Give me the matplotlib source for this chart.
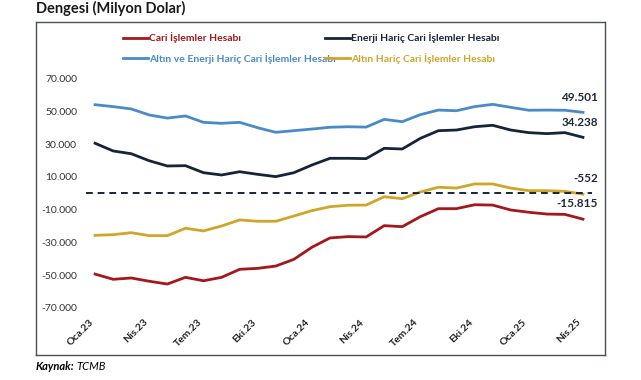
import numpy as np
import matplotlib
matplotlib.use('Agg')
import matplotlib.pyplot as plt

plt.rcParams['font.family'] = ['Lato', 'DejaVu Sans']

# ---------------------------
# data (milyon dolar, yillik)
# ---------------------------
months = ['Oca.23', 'Şub.23', 'Mar.23', 'Nis.23', 'May.23', 'Haz.23', 'Tem.23', 'Ağu.23', 'Eyl.23',
          'Eki.23', 'Kas.23', 'Ara.23', 'Oca.24', 'Şub.24', 'Mar.24', 'Nis.24', 'May.24', 'Haz.24',
          'Tem.24', 'Ağu.24', 'Eyl.24', 'Eki.24', 'Kas.24', 'Ara.24', 'Oca.25', 'Şub.25', 'Mar.25',
          'Nis.25']

cari = [-49400, -52600, -51800, -53800, -55500, -51400, -53500, -51400, -46500, -45900,
        -44500, -40400, -33000, -27300, -26500, -26700, -19800, -20400, -14300, -9400,
        -9400, -7000, -7200, -10200, -11600, -12700, -12900, -15815]
enerji_haric = [30600, 25900, 24200, 19900, 16700, 16900, 12600, 11200, 13200, 11600,
                10200, 12600, 17300, 21400, 21400, 21200, 27500, 27100, 33600, 38300,
                38700, 40700, 41600, 38700, 37100, 36500, 37100, 34238]
altin_enerji_haric = [54200, 53000, 51600, 47900, 46000, 47300, 43400, 42800, 43400, 40100,
                      37300, 38300, 39300, 40400, 40700, 40500, 45200, 43800, 48100, 50900,
                      50500, 53000, 54400, 52600, 50800, 50900, 50800, 49501]
altin_haric = [-25700, -25300, -24100, -25900, -25900, -21400, -23000, -20000, -16300, -17100,
               -17100, -13900, -10600, -8200, -7300, -7200, -2100, -3300, 800, 3700,
               3200, 5700, 5700, 3200, 1600, 1600, 1200, -552]

yticks = [70000, 50000, 30000, 10000, -10000, -30000, -50000, -70000]

c_red = '#A3171D'
c_navy = '#16243A'
c_blue = '#4A8AC6'
c_gold = '#CFA62A'

x = np.arange(len(months))

fig = plt.figure(figsize=(6.41, 3.80), dpi=100)
ax = fig.add_axes([36/641, 25/380, 569/641, 333/380])

l1, = ax.plot(x, cari, color=c_red, lw=2.0, label='Cari İşlemler Hesabı')
l2, = ax.plot(x, enerji_haric, color=c_navy, lw=2.0, label='Enerji Hariç Cari İşlemler Hesabı')
l3, = ax.plot(x, altin_enerji_haric, color=c_blue, lw=2.0,
              label='Altın ve Enerji Hariç Cari İşlemler Hesabı')
l4, = ax.plot(x, altin_haric, color=c_gold, lw=2.0, label='Altın Hariç Cari İşlemler Hesabı')
ax.hlines(0, -0.5, len(months) - 0.5, colors=c_navy, linestyles=(0, (3.5, 2.5)), lw=1.4)

# last values
for s in [altin_enerji_haric, enerji_haric, altin_haric, cari]:
    ax.annotate(f'{s[-1]:,}'.replace(',', '.'), (x[-1], s[-1]), xytext=(11, 11),
                textcoords='offset points', ha='right', va='center',
                fontsize=8.5, fontweight='bold', color='#1F2A3A')

ax.set_xlim(-3.27, 28.22)
ax.set_ylim(-98900, 104770)

ax.set_yticks(yticks)
ax.set_yticklabels([f'{v:,}'.replace(',', '.') for v in yticks])
ax.tick_params(axis='y', length=0, pad=-29.5, labelsize=7.5, labelcolor='#333333')

ax.set_xticks(x[::3])
ax.set_xticklabels(months[::3], rotation=45, ha='right', rotation_mode='default')
ax.tick_params(axis='x', length=0, pad=-27, labelsize=7.5, labelcolor='#222222')
for t in ax.get_xticklabels():
    t.set_fontweight('bold')

for sp in ax.spines.values():
    sp.set_color('#4A4F5A')
    sp.set_linewidth(1.0)

leg = ax.legend(handles=[l1, l3, l2, l4], ncol=2, loc='upper left',
                bbox_to_anchor=(118/641, 1 - 27/380), bbox_transform=fig.transFigure,
                frameon=False, handlelength=2.4, handletextpad=0.1,
                columnspacing=-1.1, borderpad=0, labelspacing=0.95,
                prop={'weight': 'bold', 'size': 7.5})
for txt, ln in zip(leg.get_texts(), [l1, l3, l2, l4]):
    txt.set_color(ln.get_color())

fig.text(36/641, 1 - 1/380, 'Dengesi (Milyon Dolar)', fontsize=10.5, fontweight='bold',
         color='#1a1a1a', va='top')
fig.text(36/641, 1 - 366/380, 'Kaynak:', fontsize=8, fontweight='bold', style='italic',
         va='center')
fig.text(76/641, 1 - 366/380, 'TCMB', fontsize=8, style='italic', va='center')

fig.savefig('out.png', dpi=100)
